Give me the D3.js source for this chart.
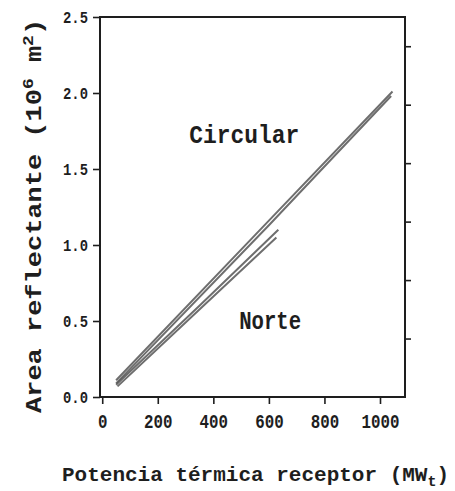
<!DOCTYPE html>
<html>
<head>
<meta charset="utf-8">
<script src="https://cdn.jsdelivr.net/npm/d3@7"></script>
<style>
  html, body { margin: 0; padding: 0; background: #fff; }
  text { font-family: "Liberation Mono", "DejaVu Sans Mono", monospace; font-weight: bold; fill: #1e1e1e; }
</style>
</head>
<body>
<svg id="chart" width="455" height="491"></svg>
<script>
// ---- data ----
const xTickValues = [0, 200, 400, 600, 800, 1000];
const yTickValues = [0.0, 0.5, 1.0, 1.5, 2.0, 2.5];
const rightTickValues = [1, 2, 3, 4, 5, 6];

// Circular field (two curves)
const circ1X = [50, 600, 1045];
const circ1Y = [0.11, 1.16, 2.01];
const circ2X = [50, 600, 1040];
const circ2Y = [0.09, 1.13, 1.98];
// North field (two curves)
const norte1X = [50, 350, 634];
const norte1Y = [0.08, 0.60, 1.10];
const norte2X = [55, 350, 627];
const norte2Y = [0.07, 0.575, 1.05];

const labels = ["Circular", "Norte"];
const labelX = [313, 493];
const labelY = [1.67, 0.45];

// ---- chart ----
const svg = d3.select("#chart");
const x = d3.scaleLinear().domain([-8, 1090]).range([100, 405]);
const y = d3.scaleLinear().domain([0, 2.5]).range([397, 17]);
const yR = d3.scaleLinear().domain([0, 6.5]).range([397, 17]);

const ink = "#1e1e1e";

// lines
const line = d3.line().x(d => x(d[0])).y(d => y(d[1]));
const series = [
  [circ1X, circ1Y], [circ2X, circ2Y], [norte1X, norte1Y], [norte2X, norte2Y]
];
series.forEach(([xs, ys]) => {
  svg.append("path")
    .datum(xs.map((v, i) => [v, ys[i]]))
    .attr("d", line)
    .attr("fill", "none")
    .attr("stroke", "#555")
    .attr("stroke-width", 2)
    .attr("stroke-opacity", 0.85);
});

// frame
svg.append("rect")
  .attr("x", 100).attr("y", 17).attr("width", 305).attr("height", 380)
  .attr("fill", "none").attr("stroke", ink).attr("stroke-width", 2);

// left axis
const gl = svg.append("g").attr("transform", "translate(100,0)")
  .call(d3.axisLeft(y).tickValues(yTickValues).tickFormat(d3.format(".1f")).tickSize(7).tickPadding(5).tickSizeOuter(0));
gl.select(".domain").remove();
gl.selectAll(".tick line").attr("stroke", ink).attr("stroke-width", 1.6);
gl.selectAll(".tick text")
  .attr("font-size", 17).attr("font-family", null)
  .attr("textLength", 25).attr("lengthAdjust", "spacingAndGlyphs")
  .attr("fill", ink);

// bottom axis
const gb = svg.append("g").attr("transform", "translate(0,397)")
  .call(d3.axisBottom(x).tickValues(xTickValues).tickFormat(d3.format("d")).tickSize(7).tickPadding(10).tickSizeOuter(0));
gb.select(".domain").remove();
gb.selectAll(".tick line").attr("stroke", ink).attr("stroke-width", 1.6);
gb.selectAll(".tick text")
  .attr("font-size", 20).attr("font-family", null)
  .attr("textLength", d => String(d).length * 9.5)
  .attr("lengthAdjust", "spacingAndGlyphs")
  .attr("fill", ink);

// right axis (unlabelled secondary ticks)
const gr = svg.append("g").attr("transform", "translate(405,0)")
  .call(d3.axisRight(yR).tickValues(rightTickValues).tickFormat("").tickSize(6).tickSizeOuter(0));
gr.select(".domain").remove();
gr.selectAll(".tick line").attr("stroke", ink).attr("stroke-width", 1.6);

// curve labels
const labelLen = [110, 62];
labels.forEach((t, i) => {
  svg.append("text")
    .attr("x", x(labelX[i]))
    .attr("y", y(labelY[i]))
    .attr("font-size", 25)
    .attr("textLength", labelLen[i])
    .attr("lengthAdjust", "spacingAndGlyphs")
    .text(t);
});

// x title
const xt = svg.append("text").attr("x", 62).attr("y", 481).attr("font-size", 21);
xt.append("tspan").text("Potencia térmica receptor (MW");
xt.append("tspan").attr("font-size", 15).attr("dy", 5).text("t");
xt.append("tspan").attr("dy", -5).text(")");

// y title
const yt = svg.append("g").attr("transform", "translate(41,413) scale(0.8,1) rotate(-90)")
  .append("text").attr("font-size", 27);
yt.append("tspan").text("Area reflectante (10");
yt.append("tspan").attr("font-size", 18).attr("dy", -10).text("6");
yt.append("tspan").attr("dy", 10).text(" m");
yt.append("tspan").attr("font-size", 18).attr("dy", -10).text("2");
yt.append("tspan").attr("dy", 10).text(")");
</script>
</body>
</html>
